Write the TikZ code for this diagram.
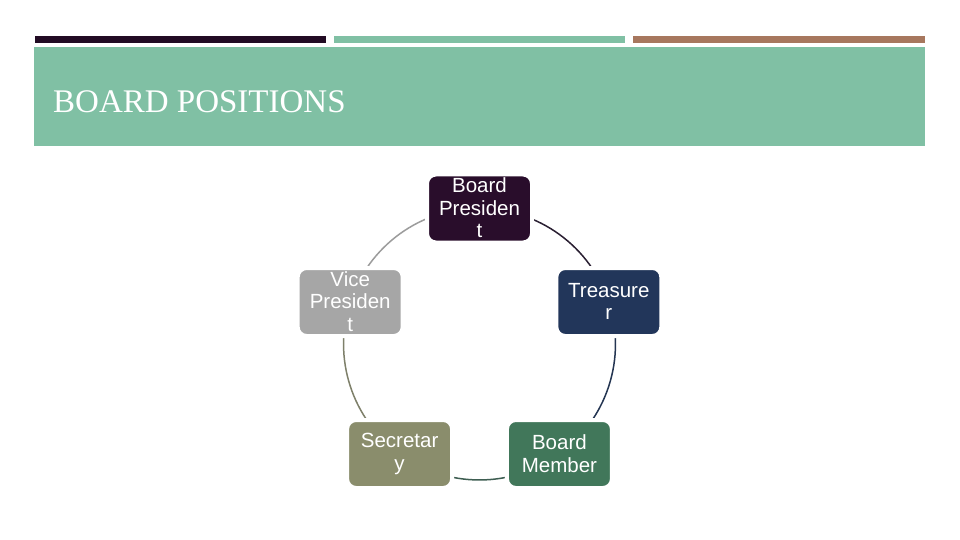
\documentclass[tikz,border=0pt]{standalone}
\usepackage{fontspec}
\setmainfont{Liberation Serif}
\newfontfamily\nodefont{Liberation Sans}
\usetikzlibrary{backgrounds}
\definecolor{darkbar}{HTML}{220B24}
\definecolor{teal}{HTML}{80C0A4}
\definecolor{brownbar}{HTML}{A7775E}
\definecolor{cbp}{HTML}{290D2B}
\definecolor{ctr}{HTML}{22365A}
\definecolor{cbm}{HTML}{41775A}
\definecolor{csec}{HTML}{8A8D6C}
\definecolor{cvp}{HTML}{A6A6A6}
\definecolor{lbp}{HTML}{2A1F32}
\definecolor{ltr}{HTML}{243552}
\definecolor{lbm}{HTML}{3E5E52}
\definecolor{lsec}{HTML}{7E806A}
\definecolor{lvp}{HTML}{9C9C9C}
\newcommand\boxstrut{\rule[-1pt]{0pt}{19pt}}
\tikzset{
  posbox/.style={rectangle, rounded corners=9pt, draw=white, line width=4pt,
    minimum width=105pt, minimum height=68pt, inner sep=0pt, align=center,
    text=white, font=\nodefont\fontsize{20.5}{22.5}\selectfont,
    execute at begin node=\boxstrut, execute at end node=\boxstrut},
  cyc/.style={line width=1.5pt},
}
\begin{document}
\begin{tikzpicture}[x=1pt,y=-1pt]
\useasboundingbox (0,0) rectangle (960,540);
% top bars
\fill[darkbar] (35,36) rectangle (326,43);
\fill[teal] (334,36) rectangle (625,43);
\fill[brownbar] (633,36) rectangle (925,43);
% header
\fill[teal] (34,47) rectangle (925,146);
\node[anchor=base west, inner sep=0pt, text=white, font=\fontsize{33}{36}\selectfont] (title) at (53,113) {BOARD POSITIONS};
% nodes
\node[posbox, fill=cbp] (bp) at (479.5,208.5) {Board\\Presiden\\t};
\node[posbox, fill=ctr] (tr) at (608.8,302) {Treasure\\r};
\node[posbox, fill=cbm] (bm) at (559.4,454) {Board\\Member};
\node[posbox, fill=csec] (sec) at (399.6,454) {Secretar\\y};
\node[posbox, fill=cvp] (vp) at (350.2,302) {Vice\\Presiden\\t};
% cycle arcs
\begin{scope}[on background layer]
\fill[white] (0,0) rectangle (960,540);
\draw[cyc, lbp] (bp.center) arc[start angle=90, end angle=18, radius=136pt];
\draw[cyc, ltr] (tr.center) arc[start angle=18, end angle=-54, radius=136pt];
\draw[cyc, lbm] (bm.center) arc[start angle=-54, end angle=-126, radius=136pt];
\draw[cyc, lsec] (sec.center) arc[start angle=-126, end angle=-198, radius=136pt];
\draw[cyc, lvp] (vp.center) arc[start angle=162, end angle=90, radius=136pt];
\end{scope}
\end{tikzpicture}
\end{document}
